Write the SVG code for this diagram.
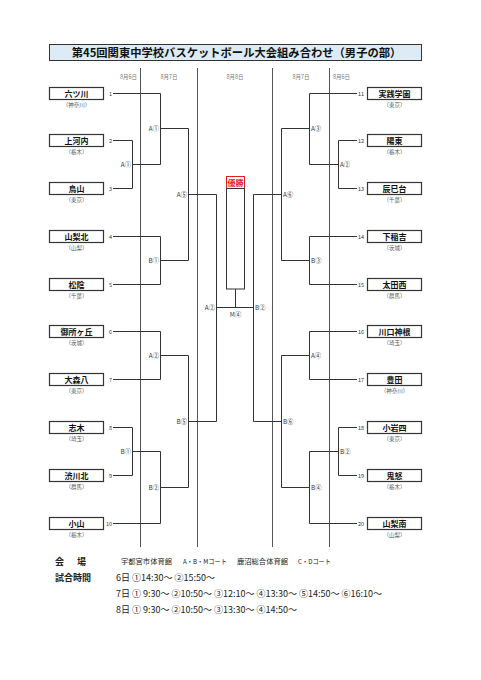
<svg xmlns="http://www.w3.org/2000/svg" width="481" height="680" viewBox="0 0 481 680">
<style>
text{font-family:"Noto Sans CJK JP","Noto Sans",sans-serif}
.bx{fill:#fff;stroke:#333;stroke-width:1.2}
.tn{font-size:8px;font-weight:bold;fill:#111;text-anchor:middle}
.pf{font-size:5.5px;fill:#555;text-anchor:middle}
.no{font-size:5.5px;fill:#333}
.lb{font-size:6.3px;fill:#333}
.dt{font-size:5.5px;fill:#777}
.ln{fill:none;stroke:#333;stroke-width:1}
.dl{fill:none;stroke:#555;stroke-width:1}
.ft{font-size:9px;fill:#222}
.fb{font-size:9px;font-weight:bold;fill:#222}
.vn{font-size:6.8px;fill:#222}
</style>
<rect width="481" height="680" fill="#fff"/>
<g id="title">
<rect x="49.5" y="44.5" width="372" height="16" fill="#dcebf5" stroke="#333" stroke-width="1"/>
<text x="236.5" y="56.5" font-size="11.3" font-weight="bold" text-anchor="middle" fill="#111">第45回関東中学校バスケットボール大会組み合わせ（男子の部）</text>
</g>
<g id="days">
<path class="dl" d="M140.5,68V547M197.5,68V547M272.5,68V547M329.5,68V547"/>
<text class="dt" x="137" y="79" text-anchor="end">8月6日</text>
<text class="dt" x="169" y="79" text-anchor="middle">8月7日</text>
<text class="dt" x="235" y="79" text-anchor="middle">8月8日</text>
<text class="dt" x="301" y="79" text-anchor="middle">8月7日</text>
<text class="dt" x="333" y="79">8月6日</text>
</g>
<g id="connectors">
<path class="ln" d="M113,93.5H160.5V164.5M113,140.5H132.5V188.5H113M132.5,164.5H160.5M160.5,128.5H188.5V260.5M113,236.5H160.5V284.5H113M160.5,260.5H188.5M188.5,194.5H216.5V421.5M113,331.5H160.5V379.5H113M160.5,355.5H188.5V487.5M113,427.5H132.5V475.5H113M132.5,451.5H160.5V523.5H113M160.5,487.5H188.5M188.5,421.5H216.5M216.5,307.5H253.5"/>
<path class="ln" d="M357,93.5H309.5V164.5M357,140.5H338.5V188.5H357M338.5,164.5H309.5M309.5,128.5H281.5V260.5M357,236.5H309.5V284.5H357M309.5,260.5H281.5M281.5,194.5H253.5V421.5M357,331.5H309.5V379.5H357M309.5,355.5H281.5V487.5M357,427.5H338.5V475.5H357M338.5,451.5H309.5V523.5H357M309.5,487.5H281.5M281.5,421.5H253.5"/>
<path class="ln" d="M235.5,289V307.5"/>
</g>
<g id="labels">
<text class="lb" x="131" y="166.8" text-anchor="end">A①</text>
<text class="lb" x="159" y="130.8" text-anchor="end">A①</text>
<text class="lb" x="159" y="262.8" text-anchor="end">B①</text>
<text class="lb" x="187" y="196.8" text-anchor="end">A⑤</text>
<text class="lb" x="159" y="357.8" text-anchor="end">A②</text>
<text class="lb" x="131" y="453.8" text-anchor="end">B①</text>
<text class="lb" x="159" y="489.8" text-anchor="end">B②</text>
<text class="lb" x="187" y="423.8" text-anchor="end">B⑤</text>
<text class="lb" x="215" y="309.8" text-anchor="end">A②</text>
<text class="lb" x="340" y="166.8">A②</text>
<text class="lb" x="311" y="130.8">A③</text>
<text class="lb" x="311" y="262.8">B③</text>
<text class="lb" x="283" y="196.8">A⑥</text>
<text class="lb" x="311" y="357.8">A④</text>
<text class="lb" x="340" y="453.8">B②</text>
<text class="lb" x="311" y="489.8">B④</text>
<text class="lb" x="283" y="423.8">B⑥</text>
<text class="lb" x="255" y="309.8">B②</text>
<text class="lb" x="235.5" y="316.5" text-anchor="middle">M④</text>
</g>
<g id="final">
<rect x="226.5" y="176.5" width="18" height="12" fill="#fff" stroke="#e02020" stroke-width="1"/>
<text x="235.5" y="185.8" font-size="8" font-weight="bold" fill="#e02020" text-anchor="middle">優勝</text>
<rect x="226.5" y="188.5" width="18" height="100.5" fill="#fff" stroke="#333" stroke-width="1"/>
</g>
<g id="t1"><rect class="bx" x="49.5" y="87.5" width="54" height="12"/><text class="tn" x="76.5" y="96.5">六ツ川</text><text class="pf" x="76.5" y="107">（神奈川）</text><text class="no" x="112" y="95.5" text-anchor="end">1</text></g>
<g id="t2"><rect class="bx" x="49.5" y="134.5" width="54" height="12"/><text class="tn" x="76.5" y="143.5">上河内</text><text class="pf" x="76.5" y="154">（栃木）</text><text class="no" x="112" y="142.5" text-anchor="end">2</text></g>
<g id="t3"><rect class="bx" x="49.5" y="182.5" width="54" height="12"/><text class="tn" x="76.5" y="191.5">烏山</text><text class="pf" x="76.5" y="202">（東京）</text><text class="no" x="112" y="190.5" text-anchor="end">3</text></g>
<g id="t4"><rect class="bx" x="49.5" y="230.5" width="54" height="12"/><text class="tn" x="76.5" y="239.5">山梨北</text><text class="pf" x="76.5" y="250">（山梨）</text><text class="no" x="112" y="238.5" text-anchor="end">4</text></g>
<g id="t5"><rect class="bx" x="49.5" y="278.5" width="54" height="12"/><text class="tn" x="76.5" y="287.5">松陰</text><text class="pf" x="76.5" y="298">（千葉）</text><text class="no" x="112" y="286.5" text-anchor="end">5</text></g>
<g id="t6"><rect class="bx" x="49.5" y="325.5" width="54" height="12"/><text class="tn" x="76.5" y="334.5">御所ヶ丘</text><text class="pf" x="76.5" y="345">（茨城）</text><text class="no" x="112" y="333.5" text-anchor="end">6</text></g>
<g id="t7"><rect class="bx" x="49.5" y="373.5" width="54" height="12"/><text class="tn" x="76.5" y="382.5">大森八</text><text class="pf" x="76.5" y="393">（東京）</text><text class="no" x="112" y="381.5" text-anchor="end">7</text></g>
<g id="t8"><rect class="bx" x="49.5" y="421.5" width="54" height="12"/><text class="tn" x="76.5" y="430.5">志木</text><text class="pf" x="76.5" y="441">（埼玉）</text><text class="no" x="112" y="429.5" text-anchor="end">8</text></g>
<g id="t9"><rect class="bx" x="49.5" y="469.5" width="54" height="12"/><text class="tn" x="76.5" y="478.5">渋川北</text><text class="pf" x="76.5" y="489">（群馬）</text><text class="no" x="112" y="477.5" text-anchor="end">9</text></g>
<g id="t10"><rect class="bx" x="49.5" y="517.5" width="54" height="12"/><text class="tn" x="76.5" y="526.5">小山</text><text class="pf" x="76.5" y="537">（栃木）</text><text class="no" x="112" y="525.5" text-anchor="end">10</text></g>
<g id="t11"><rect class="bx" x="367.5" y="87.5" width="54" height="12"/><text class="tn" x="394.5" y="96.5">実践学園</text><text class="pf" x="394.5" y="107">（東京）</text><text class="no" x="358" y="95.5">11</text></g>
<g id="t12"><rect class="bx" x="367.5" y="134.5" width="54" height="12"/><text class="tn" x="394.5" y="143.5">陽東</text><text class="pf" x="394.5" y="154">（栃木）</text><text class="no" x="358" y="142.5">12</text></g>
<g id="t13"><rect class="bx" x="367.5" y="182.5" width="54" height="12"/><text class="tn" x="394.5" y="191.5">辰巳台</text><text class="pf" x="394.5" y="202">（千葉）</text><text class="no" x="358" y="190.5">13</text></g>
<g id="t14"><rect class="bx" x="367.5" y="230.5" width="54" height="12"/><text class="tn" x="394.5" y="239.5">下稲吉</text><text class="pf" x="394.5" y="250">（茨城）</text><text class="no" x="358" y="238.5">14</text></g>
<g id="t15"><rect class="bx" x="367.5" y="278.5" width="54" height="12"/><text class="tn" x="394.5" y="287.5">太田西</text><text class="pf" x="394.5" y="298">（群馬）</text><text class="no" x="358" y="286.5">15</text></g>
<g id="t16"><rect class="bx" x="367.5" y="325.5" width="54" height="12"/><text class="tn" x="394.5" y="334.5">川口神根</text><text class="pf" x="394.5" y="345">（埼玉）</text><text class="no" x="358" y="333.5">16</text></g>
<g id="t17"><rect class="bx" x="367.5" y="373.5" width="54" height="12"/><text class="tn" x="394.5" y="382.5">豊田</text><text class="pf" x="394.5" y="393">（神奈川）</text><text class="no" x="358" y="381.5">17</text></g>
<g id="t18"><rect class="bx" x="367.5" y="421.5" width="54" height="12"/><text class="tn" x="394.5" y="430.5">小岩四</text><text class="pf" x="394.5" y="441">（東京）</text><text class="no" x="358" y="429.5">18</text></g>
<g id="t19"><rect class="bx" x="367.5" y="469.5" width="54" height="12"/><text class="tn" x="394.5" y="478.5">鬼怒</text><text class="pf" x="394.5" y="489">（栃木）</text><text class="no" x="358" y="477.5">19</text></g>
<g id="t20"><rect class="bx" x="367.5" y="517.5" width="54" height="12"/><text class="tn" x="394.5" y="526.5">山梨南</text><text class="pf" x="394.5" y="537">（山梨）</text><text class="no" x="358" y="525.5">20</text></g>
<g id="footer">
<text class="fb" x="55" y="564.5">会</text><text class="fb" x="77" y="564.5">場</text>
<text class="vn" x="121" y="563.8" textLength="51" lengthAdjust="spacingAndGlyphs">宇都宮市体育館</text>
<text class="vn" x="183" y="563.8" textLength="44" lengthAdjust="spacingAndGlyphs">A・B・Mコート</text>
<text class="vn" x="237" y="563.8" textLength="51" lengthAdjust="spacingAndGlyphs">鹿沼総合体育館</text>
<text class="vn" x="298" y="563.8" textLength="33" lengthAdjust="spacingAndGlyphs">C・Dコート</text>
<text class="fb" x="55" y="580.5">試合時間</text>
<text class="ft" x="116" y="580.5">6日 ①14:30～ ②15:50～</text>
<text class="ft" x="116" y="596.5">7日 ① 9:30～ ②10:50～ ③12:10～ ④13:30～ ⑤14:50～ ⑥16:10～</text>
<text class="ft" x="116" y="612.5">8日 ① 9:30～ ②10:50～ ③13:30～ ④14:50～</text>
</g>
</svg>
